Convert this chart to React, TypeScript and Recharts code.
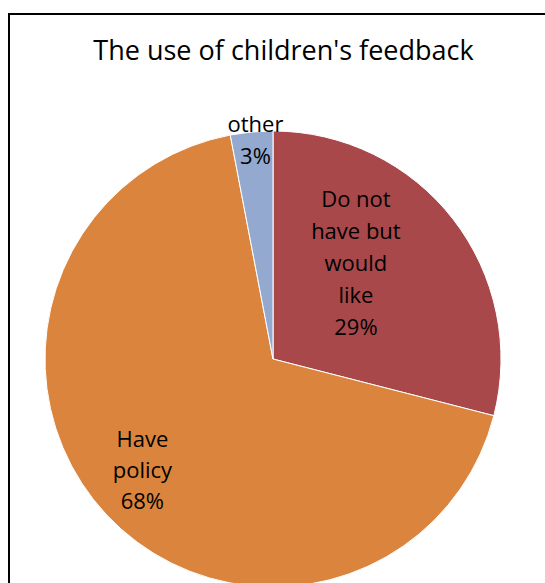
import { PieChart, Pie, Cell } from 'recharts';

const categories = ['Do not have but would like', 'Have policy', 'other'];
const shares = [29, 68, 3];
const labelLines = [
  ['Do not', 'have but', 'would', 'like', '29%'],
  ['Have', 'policy', '68%'],
  ['3%'],
];
const outsideLabels = ['', '', 'other'];

const COLORS = ['#A9484A', '#DB843D', '#93A9CF'];
// label placement per slice: fraction of radius and angle nudge (deg)
const LABEL_POS = [
  { r: 0.56, shift: 11.7 },
  { r: 0.75, shift: -3 },
  { r: 0.9, shift: -0.5 },
];

const data = categories.map((name, i) => ({ name, value: shares[i] }));

const FONT = '"Open Sans", "Noto Sans", sans-serif';
const RAD = Math.PI / 180;

function renderLabel(props: any) {
  const { cx, cy, midAngle, outerRadius, index } = props;
  const pos = LABEL_POS[index];
  const a = (midAngle + pos.shift) * RAD;
  const x = cx + outerRadius * pos.r * Math.cos(a);
  const y = cy - outerRadius * pos.r * Math.sin(a);
  const lines = labelLines[index];
  const lh = index === 1 ? 31 : 32;
  const top = y - ((lines.length - 1) * lh) / 2;
  return (
    <g>
      <text x={x} y={top} textAnchor="middle" dominantBaseline="central" fill="#000" fontSize={22} fontFamily={FONT}>
        {lines.map((l, k) => (
          <tspan key={k} x={x} y={top + k * lh}>{l}</tspan>
        ))}
      </text>
      {outsideLabels[index] && (
        <text x={x} y={top - lh} textAnchor="middle" dominantBaseline="central" fill="#000" fontSize={22} fontFamily={FONT}>
          {outsideLabels[index]}
        </text>
      )}
    </g>
  );
}

export default function App() {
  return (
    <div style={{ position: 'absolute', left: 0, top: 0, width: 545, height: 583, overflow: 'hidden', background: '#fff' }}>
      {/* chart frame, runs off the right and bottom */}
      <div style={{ position: 'absolute', left: 8, top: 13, width: 600, height: 640, border: '2px solid #000', boxSizing: 'border-box' }} />
      <div style={{ position: 'absolute', left: 0, top: 31, width: 567, textAlign: 'center', fontFamily: FONT, fontSize: 27, color: '#000', whiteSpace: 'nowrap' }}>
        The use of children's feedback
      </div>
      <div style={{ position: 'absolute', left: 0, top: 0 }}>
        <PieChart width={545} height={583}>
          <Pie
            data={data}
            dataKey="value"
            cx={268}
            cy={354}
            outerRadius={228}
            startAngle={90}
            endAngle={-270}
            stroke="#fff"
            strokeWidth={1}
            label={renderLabel}
            labelLine={false}
            isAnimationActive={false}
          >
            {data.map((d, i) => (
              <Cell key={d.name} fill={COLORS[i]} />
            ))}
          </Pie>
        </PieChart>
      </div>
    </div>
  );
}
